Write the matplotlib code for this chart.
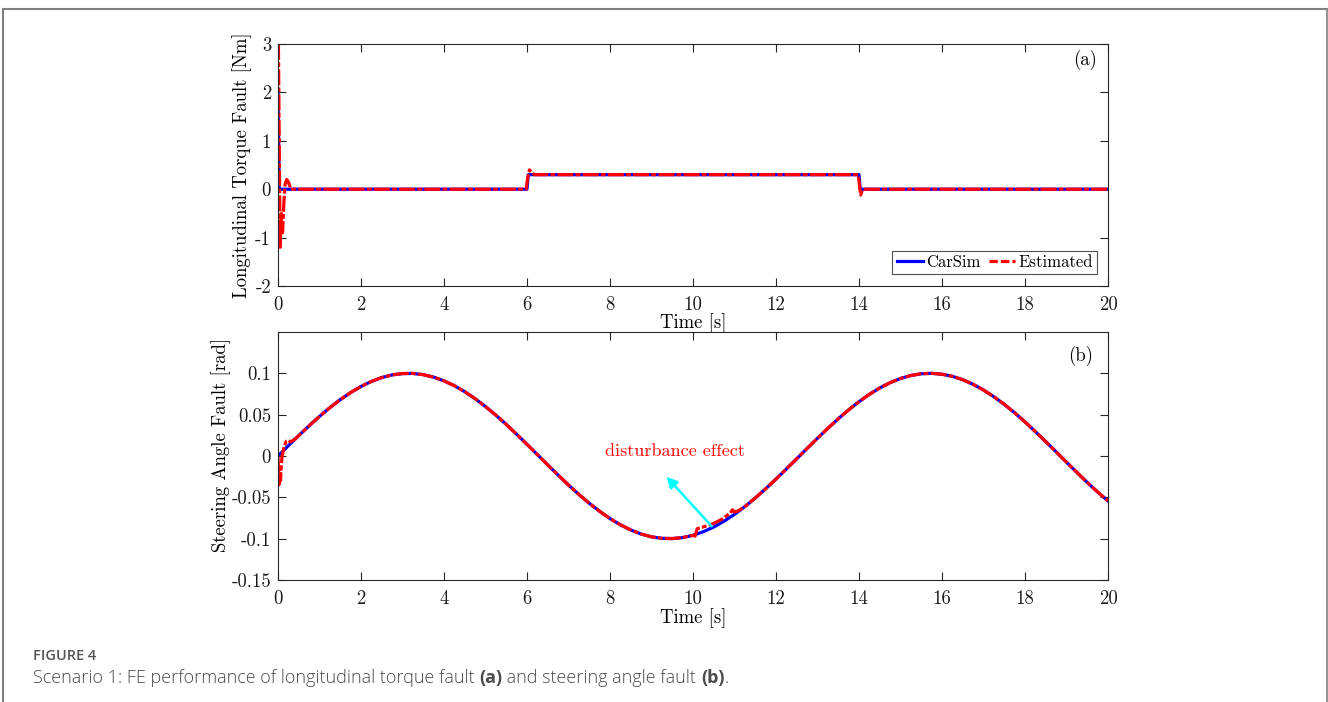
import matplotlib
matplotlib.use("Agg")
import matplotlib.pyplot as plt
from matplotlib.lines import Line2D
from matplotlib.ticker import FuncFormatter

# ---------------- data ----------------
# (a) longitudinal torque fault
carsim_a_t = [0.0, 0.03, 6.0, 6.03, 14.0, 14.03, 20.0]
carsim_a_v = [2.0, 0.0, 0.0, 0.3, 0.3, 0.0, 0.0]
est_a_t = [0.01, 0.02, 0.05, 0.08, 0.11, 0.14, 0.17, 0.21, 0.25, 0.31, 0.40,
           5.98, 6.01, 6.06, 6.10, 6.18, 13.98, 14.01, 14.04, 14.08, 14.15, 20.0]
est_a_v = [3.0, 2.0, -1.2, -0.5, -0.9, -0.3, 0.1, 0.2, 0.15, 0.0, 0.0,
           0.0, 0.2, 0.4, 0.36, 0.3, 0.3, 0.1, -0.12, -0.02, 0.0, 0.0]

# (b) steering angle fault
carsim_b_t = [0.0, 0.25, 0.5, 0.75, 1.0, 1.25, 1.5, 1.75, 2.0, 2.25, 2.5, 2.75,
              3.0, 3.25, 3.5, 3.75, 4.0, 4.25, 4.5, 4.75, 5.0, 5.25, 5.5, 5.75,
              6.0, 6.25, 6.5, 6.75, 7.0, 7.25, 7.5, 7.75, 8.0, 8.25, 8.5, 8.75,
              9.0, 9.25, 9.5, 9.75, 10.0, 10.25, 10.5, 10.75, 11.0, 11.25, 11.5,
              11.75, 12.0, 12.25, 12.5, 12.75, 13.0, 13.25, 13.5, 13.75, 14.0,
              14.25, 14.5, 14.75, 15.0, 15.25, 15.5, 15.75, 16.0, 16.25, 16.5,
              16.75, 17.0, 17.25, 17.5, 17.75, 18.0, 18.25, 18.5, 18.75, 19.0,
              19.25, 19.5, 19.75, 20.0]
carsim_b_v = [0.0, 0.0125, 0.0247, 0.0366, 0.0479, 0.0585, 0.0682, 0.0767,
              0.0841, 0.0902, 0.0949, 0.0981, 0.0997, 0.0999, 0.0984, 0.0954,
              0.0909, 0.0850, 0.0778, 0.0693, 0.0598, 0.0494, 0.0382, 0.0263,
              0.0141, 0.0017, -0.0108, -0.0231, -0.0351, -0.0465, -0.0572,
              -0.0669, -0.0757, -0.0832, -0.0895, -0.0944, -0.0978, -0.0996,
              -0.0999, -0.0987, -0.0959, -0.0916, -0.0859, -0.0788, -0.0706,
              -0.0612, -0.0508, -0.0397, -0.0279, -0.0157, -0.0033, 0.0092,
              0.0215, 0.0335, 0.0450, 0.0558, 0.0657, 0.0746, 0.0823, 0.0887,
              0.0938, 0.0974, 0.0995, 0.1000, 0.0989, 0.0964, 0.0923, 0.0867,
              0.0798, 0.0717, 0.0625, 0.0523, 0.0412, 0.0295, 0.0174, 0.0050,
              -0.0075, -0.0199, -0.0320, -0.0435, -0.0544]
est_b_head_t = [0.0, 0.02, 0.04, 0.06, 0.08, 0.10, 0.15, 0.20, 0.25, 0.30, 0.40]
est_b_head_v = [0.0, -0.035, -0.015, -0.03, -0.01, 0.0, 0.012, 0.018, 0.019,
                0.017, 0.020]
est_b_dist_t = [10.0, 10.05, 10.1, 10.3, 10.5, 10.7, 10.9, 10.95, 11.0, 11.1]
est_b_dist_v = [-0.0959, -0.097, -0.088, -0.085, -0.0815, -0.0765, -0.069,
                -0.065, -0.068, -0.066]

yticks_a = [-2, -1, 0, 1, 2, 3]
yticks_b = [-0.15, -0.1, -0.05, 0, 0.05, 0.1]
xticks = [0, 2, 4, 6, 8, 10, 12, 14, 16, 18, 20]

# build estimated (b) series from its pieces
i_start = carsim_b_t.index(0.5)
i_dist = carsim_b_t.index(10.0)
i_end = carsim_b_t.index(11.25)
est_b_t = est_b_head_t + carsim_b_t[i_start:i_dist] + est_b_dist_t + carsim_b_t[i_end:]
est_b_v = est_b_head_v + carsim_b_v[i_start:i_dist] + est_b_dist_v + carsim_b_v[i_end:]

# ---------------- style ----------------
plt.rcParams['font.family'] = ['cmr10', 'DejaVu Serif']
plt.rcParams['axes.unicode_minus'] = False
plt.rcParams['mathtext.fontset'] = 'cm'

W, H = 1328, 702
fig = plt.figure(figsize=(W / 100, H / 100), dpi=100)

def fx(px):
    return px / W

def fy(py):
    return 1 - py / H

ax_a = fig.add_axes([fx(278), fy(286), fx(1108) - fx(278), fy(44) - fy(286)])
ax_b = fig.add_axes([fx(278), fy(580), fx(1108) - fx(278), fy(332) - fy(580)])

blue = '#0000ff'
red = '#ff0000'
lw = 2.3
dash = (0, (5, 0.7, 1.5, 0.7))
tick_fs = 13.5
spine_col = '#262626'

fmt = FuncFormatter(lambda v, p: ('%g' % v))

for ax in (ax_a, ax_b):
    ax.set_xlim(0, 20)
    ax.set_xticks(xticks)
    ax.xaxis.set_major_formatter(fmt)
    ax.yaxis.set_major_formatter(fmt)
    ax.tick_params(direction='in', length=5.5, width=0.8, top=True, right=True,
                   labelsize=tick_fs, colors=spine_col, labelcolor='#1a1a1a')
    ax.tick_params(axis='x', pad=7)
    ax.tick_params(axis='y', pad=5)
    for s in ax.spines.values():
        s.set_color(spine_col)
        s.set_linewidth(0.8)

# (a)
ax_a.plot(carsim_a_t, carsim_a_v, color=blue, lw=lw, label='CarSim')
ax_a.plot(est_a_t, est_a_v, color=red, lw=lw, linestyle=dash, label='Estimated')
ax_a.set_ylim(-2, 3)
ax_a.set_yticks(yticks_a)
ax_a.set_ylabel('Longitudinal Torque Fault [Nm]', fontsize=tick_fs)
ax_a.yaxis.set_label_coords(-0.031, 0.5)
ax_a.set_xlabel('Time [s]', fontsize=tick_fs)
ax_a.xaxis.set_label_coords(0.5, -0.113)
ax_a.text(0.972, 0.935, '(a)', transform=ax_a.transAxes, ha='center',
          va='center', fontsize=tick_fs)
leg = ax_a.legend(loc='lower right', bbox_to_anchor=(0.987, 0.048),
                  ncol=2, fontsize=12, frameon=True, fancybox=False,
                  edgecolor='#262626', handlelength=1.6, handletextpad=0.2,
                  columnspacing=0.45, borderpad=0.25, borderaxespad=0.0)
leg.get_frame().set_linewidth(0.8)
leg.get_lines()[1].set_linestyle((0, (2.6, 1.0)))

# (b)
ax_b.plot(carsim_b_t, carsim_b_v, color=blue, lw=lw)
ax_b.plot(est_b_t, est_b_v, color=red, lw=lw, linestyle=dash)
ax_b.set_ylim(-0.15, 0.15)
ax_b.set_yticks(yticks_b)
ax_b.set_ylabel('Steering Angle Fault [rad]', fontsize=tick_fs)
ax_b.yaxis.set_label_coords(-0.0565, 0.545)
ax_b.set_xlabel('Time [s]', fontsize=tick_fs)
ax_b.xaxis.set_label_coords(0.5, -0.113)
ax_b.text(0.967, 0.905, '(b)', transform=ax_b.transAxes, ha='center',
          va='center', fontsize=tick_fs)
ax_b.annotate('', xy=(9.36, -0.025), xytext=(10.45, -0.085),
              arrowprops=dict(arrowstyle='-|>', color='#00ffff', lw=1.8,
                              mutation_scale=16, shrinkA=0, shrinkB=0))
ax_b.text(9.57, 0.006, 'disturbance effect', color=red, fontsize=13,
          ha='center', va='center')

# outer frame
frame_col = '#808080'
fig.add_artist(Line2D([fx(3.5), fx(1327)], [fy(9), fy(9)], color=frame_col, lw=1.5))
fig.add_artist(Line2D([fx(3.5), fx(3.5)], [fy(9), 0], color=frame_col, lw=1.5))
fig.add_artist(Line2D([fx(1327), fx(1327)], [fy(9), 0], color=frame_col, lw=1.2))

# caption
cap_col = '#4a4a4a'
fig.text(fx(33), fy(656), 'FIGURE 4', fontsize=10.5, family='Open Sans',
         weight='semibold', color='#555555', va='center', ha='left')

segments = [('Scenario 1: FE performance of longitudinal torque fault ', 'light'),
            ('(a)', 'bold'),
            (' and steering angle fault ', 'light'),
            ('(b)', 'bold'),
            ('.', 'light')]
fig.canvas.draw()
renderer = fig.canvas.get_renderer()
x = 33
for s, w in segments:
    t = fig.text(fx(x), fy(678), s, fontsize=13, family='Open Sans', weight=w,
                 color=cap_col, va='center', ha='left')
    bb = t.get_window_extent(renderer)
    x += bb.width

fig.savefig('out.png', dpi=100)
